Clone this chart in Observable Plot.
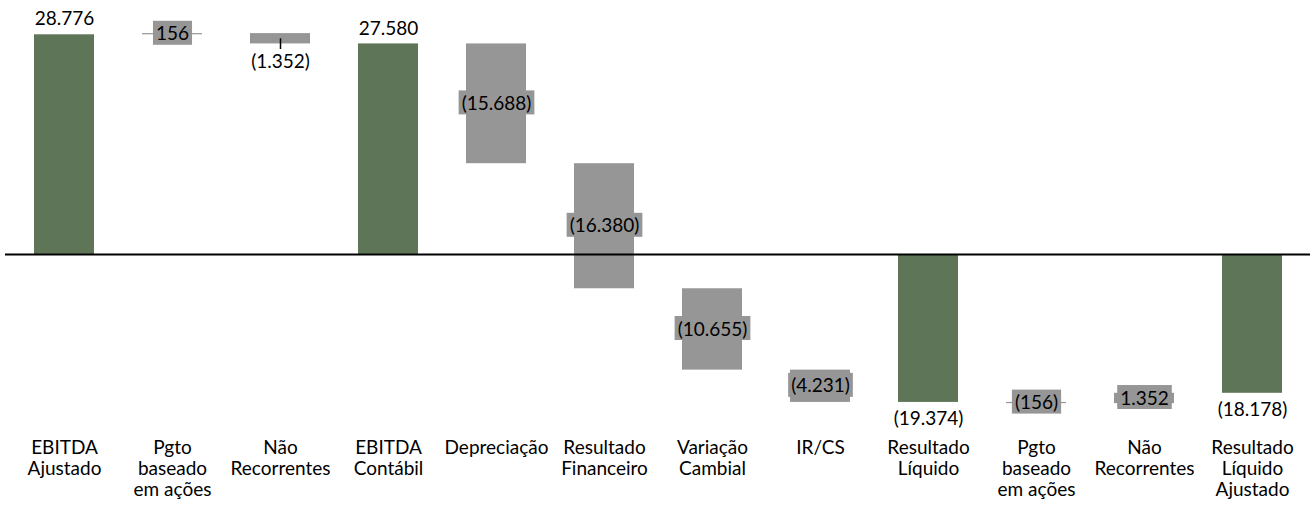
<!DOCTYPE html>
<html>
<head>
<meta charset="utf-8">
<script src="https://cdn.jsdelivr.net/npm/d3@7"></script>
<script src="https://cdn.jsdelivr.net/npm/@observablehq/plot@0.6"></script>
<style>
  html, body { margin: 0; padding: 0; background: white; }
  #chart svg { display: block; }
</style>
</head>
<body>
<div id="chart"></div>
<script>
// ---- data ----
const categories = [
  "EBITDA\nAjustado",
  "Pgto\nbaseado\nem ações",
  "Não\nRecorrentes",
  "EBITDA\nContábil",
  "Depreciação",
  "Resultado\nFinanceiro",
  "Variação\nCambial",
  "IR/CS",
  "Resultado\nLíquido",
  "Pgto\nbaseado\nem ações",
  "Não\nRecorrentes",
  "Resultado\nLíquido\nAjustado"
];
const values = [28776, 156, -1352, 27580, -15688, -16380, -10655, -4231, -19374, -156, 1352, -18178];
const kinds = ["total", "delta", "delta", "total", "delta", "delta", "delta", "delta", "total", "delta", "delta", "total"];

// ---- build waterfall table ----
let running = 0;
const rows = values.map((v, i) => {
  let y1, y2;
  if (kinds[i] === "total") { y1 = 0; y2 = v; running = v; }
  else { y1 = running; y2 = running + v; running += v; }
  return { i: String(i), v, kind: kinds[i], y1, y2, lo: Math.min(y1, y2), hi: Math.max(y1, y2), mid: (y1 + y2) / 2 };
});

const br = d3.formatLocale({ decimal: ",", thousands: ".", grouping: [3], currency: ["", ""] });
const f = br.format(",d");
const fmt = v => v < 0 ? `(${f(-v)})` : f(v);

const leaderIdx = 2; // label placed below bar with leader line

const GREEN = "#5e7657";
const GREY = "#969696";

const totalsPos = rows.filter(d => d.kind === "total" && d.v >= 0);
const totalsNeg = rows.filter(d => d.kind === "total" && d.v < 0);
const boxed = rows.filter(d => d.kind === "delta" && +d.i !== leaderIdx);
const leader = rows.filter(d => +d.i === leaderIdx);

const chart = Plot.plot({
  width: 1314,
  height: 507,
  marginLeft: 5,
  marginRight: 4,
  marginTop: 0,
  marginBottom: 87,
  style: { fontFamily: "Lato, 'Open Sans', sans-serif", fontSize: "19px", background: "white", color: "black" },
  x: { domain: rows.map(d => d.i), paddingInner: 0.448, paddingOuter: 0.224, label: null },
  y: { domain: [-21742, 33268], axis: null },
  marks: [
    Plot.barY(rows, { x: "i", y1: "y1", y2: "y2", fill: d => d.kind === "total" ? GREEN : GREY }),
    Plot.ruleY([0], { stroke: "black", strokeWidth: 2 }),
    Plot.ruleX(leader, { x: "i", y1: "mid", y2: "lo", stroke: "black", strokeWidth: 1.5, insetBottom: -5.6 }),
    Plot.text(totalsPos, { x: "i", y: "hi", text: d => fmt(d.v), lineAnchor: "middle", dy: -15.5, fill: "black" }),
    Plot.text(totalsNeg, { x: "i", y: "lo", text: d => fmt(d.v), lineAnchor: "middle", dy: 16.5, fill: "black" }),
    Plot.text(leader, { x: "i", y: "lo", text: d => fmt(d.v), lineAnchor: "middle", dy: 17.5, fill: "black" }),
    Plot.text(boxed, { x: "i", y: "mid", text: d => fmt(d.v), lineAnchor: "middle", fill: "black", ariaDescription: "boxlabel" }),
    Plot.axisX({ tickSize: 0, tickPadding: 19, tickFormat: i => categories[+i], lineHeight: 1.09, label: null, fill: "black" })
  ]
});

document.getElementById("chart").appendChild(chart);

// grey background boxes behind delta labels
chart.querySelectorAll('g[aria-description="boxlabel"] text').forEach(t => {
  const b = t.getBBox();
  const r = document.createElementNS("http://www.w3.org/2000/svg", "rect");
  r.setAttribute("x", b.x - 3);
  r.setAttribute("width", b.width + 6);
  r.setAttribute("y", b.y + b.height / 2 - 12);
  r.setAttribute("height", 24);
  r.setAttribute("fill", GREY);
  const tr = t.getAttribute("transform");
  if (tr) r.setAttribute("transform", tr);
  t.parentNode.insertBefore(r, t);
});
</script>
</body>
</html>
